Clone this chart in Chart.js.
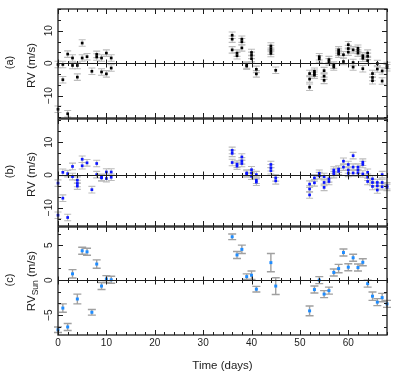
<!DOCTYPE html>
<html><head><meta charset="utf-8">
<script src="https://cdn.jsdelivr.net/npm/chart.js@4"></script>
<style>
html,body{margin:0;padding:0;background:#fff;width:399px;height:379px;overflow:hidden}
#wrap{position:relative;width:399px;height:379px}
canvas{position:absolute;left:0;top:0}
</style></head><body>
<div id="wrap">
<canvas id="ca" width="399" height="379"></canvas>
<canvas id="cb" width="399" height="379"></canvas>
<canvas id="cc" width="399" height="379"></canvas>
</div>
<script>
// ---------- data ----------
const days = [0,1,2,3,4,5,6,7,8,9,10,11,36,37,38,39,40,41,44,45,52,53,54,55,56,57,58,59,60,61,62,63,64,65,66,67,68];
const xTickLabels = [0,10,20,30,40,50,60];
const abTickLabels = [-10,0,10];
const cTickLabels = [-5,0,5];
// panel (a): RV per night (m/s)
const aValues = [[-0.4,-14.2],[-0.4,-5.1],[2.8,-15.6],[1.6,-0.7],[-0.7,-4.3],[6.2,1.6],[2.0],[-2.5],[2.7,1.9],[1.6,-2.7],[3.1,-3.3],[1.6,-1.5],
 [8.6,7.4,4.1],[3.1,2.3],[7.4,6.6,4.7],[-0.6,-0.9],[3.3,2.4,1.4],[-1.9,-3.3],[5.3,4.5,3.7,3.0],[-2.2],
 [-3.2,-4.9,-7.4],[-2.5,-3.1,-3.7],[2.0,1.3],[-2.3,-4.0,-5.3],[1.1,0.4],[-0.6,-1.2],[4.1,3.4,2.8],[2.6,0.5],[5.7,4.5,3.4],[4.1,0.2,-1.2],[4.6,3.9,3.1],[2.3,1.5,-1.7],[3.1,2.1,0.8],[-3.2,-4.4,-5.4],[-0.1,-1.8],[-2.4,-5.5],[-0.7,-1.4]];
// panel (b)
const bValues = [[-2.5,-12.3],[0.8,-7.1],[0.4,-13.0],[2.6,-0.5],[-1.6,-2.6,-3.4],[4.8,2.8],[3.7],[-4.5],[3.5,0.1],[-0.7,-0.9],[0.9,-1.1],[0.9,-0.7],
 [7.5,6.6,3.8],[3.3,2.7],[5.5,4.3,3.5],[0.6,0.3],[1.6,0.6,-0.4],[0.1,-1.6,-2.2],[3.2,2.2,1.3],[-0.9,-1.8],
 [-2.8,-4.3,-6.1],[-0.9,-2.4],[0.5,-0.2],[-0.5,-2.3,-3.8],[-1.2,-2.0],[1.5,0.8,0.1],[1.8,1.1],[4.2,2.4],[3.2,1.5,0.5],[5.9,2.4,0.6],[2.4,1.5,0.6],[3.9,3.2,0.3],[0.8,-0.7,-2.0],[-1.2,-2.3,-3.5],[-2.3,-3.3,-4.6],[0.1,-2.3,-3.6],[-3.3,-3.8]];
const abError = 1.0;
// panel (c): RV_Sun
const cValues = [-7.1,-4.0,-6.7,0.9,-2.7,4.2,4.05,-4.6,2.3,-0.85,0.15,0.05, 6.2,3.6,4.4,0.5,0.7,-1.3,2.5,-0.85, -4.4,-1.35,0,-2.0,-1.5,1.1,1.65,3.95,1.85,3.2,1.8,2.55,-0.5,-2.3,-3.15,-2.5,-3.4];
const cErrors = [0.4,0.6,0.5,0.6,0.7,0.5,0.5,0.4,0.6,0.5,0.5,0.5, 0.4,0.5,0.6,0.4,0.6,0.4,1.3,1.2, 0.7,0.5,0.5,0.5,0.5,0.5,0.6,0.5,0.5,0.5,0.5,0.5,0.5,0.6,0.5,0.6,0.5];

// ---------- helpers ----------
const FONT = '"Liberation Sans", Arial, Helvetica, sans-serif';
const W = 399, H = 379, LEFT = 58, RIGHT = 387;

function groupPoints(vals, err) {
  const pts = [];
  days.forEach((d, i) => vals[i].forEach(v => pts.push({x: d, y: v, e: err})));
  return pts;
}
function rotText(ctx, txt, x, y, font) {
  ctx.save(); ctx.translate(x, y); ctx.rotate(-Math.PI/2);
  ctx.font = font; ctx.textAlign = 'center'; ctx.textBaseline = 'middle';
  ctx.fillText(txt, 0, 0); ctx.restore();
}

const errPlugin = {
  id: 'errbars',
  beforeDatasetsDraw(chart, args, o) {
    const {ctx, scales: {x, y}} = chart;
    ctx.save();
    ctx.strokeStyle = o.color; ctx.lineWidth = o.width;
    chart.data.datasets[0].data.forEach(p => {
      const px = x.getPixelForValue(p.x);
      const y1 = y.getPixelForValue(p.y - p.e), y2 = y.getPixelForValue(p.y + p.e);
      ctx.beginPath();
      ctx.moveTo(px, y1); ctx.lineTo(px, y2);
      ctx.moveTo(px - o.cap, y1); ctx.lineTo(px + o.cap, y1);
      ctx.moveTo(px - o.cap, y2); ctx.lineTo(px + o.cap, y2);
      ctx.stroke();
    });
    ctx.restore();
  }
};

const framePlugin = {
  id: 'frame',
  afterDatasetsDraw(chart, args, o) {
    const {ctx, chartArea: ca, scales: {x, y}} = chart;
    ctx.save();
    ctx.strokeStyle = '#1c1c1c';
    ctx.fillStyle = '#1c1c1c';
    ctx.lineWidth = 1;
    const y0 = Math.round(y.getPixelForValue(0)) + 0.5;
    ctx.beginPath(); ctx.moveTo(ca.left, y0); ctx.lineTo(ca.right, y0); ctx.stroke();
    // x ticks (top, bottom, zero line)
    for (let k = 0; k * 2 <= x.max + 1e-9; k++) {
      const v = k * 2;
      const px = Math.round(x.getPixelForValue(v)) + 0.5;
      const major = v % 10 === 0;
      const L = major ? 5 : 3;
      const Z = major ? 4 : 2.5;
      ctx.beginPath();
      ctx.moveTo(px, ca.top); ctx.lineTo(px, ca.top + L);
      ctx.moveTo(px, ca.bottom); ctx.lineTo(px, ca.bottom - L);
      ctx.moveTo(px, y0 - Z); ctx.lineTo(px, y0 + Z);
      ctx.stroke();
    }
    // y ticks (left, right)
    const step = o.yMajor / 3;
    for (let k = Math.ceil(y.min / step); k * step <= y.max + 1e-9; k++) {
      const py = Math.round(y.getPixelForValue(k * step)) + 0.5;
      const L = (k % 3 === 0) ? 5 : 3;
      ctx.beginPath();
      ctx.moveTo(ca.left, py); ctx.lineTo(ca.left + L, py);
      ctx.moveTo(ca.right, py); ctx.lineTo(ca.right - L, py);
      ctx.stroke();
    }
    ctx.lineWidth = 1.3;
    ctx.strokeRect(ca.left, ca.top, ca.right - ca.left, ca.bottom - ca.top);
    // y tick labels
    o.yLabels.forEach(v => {
      rotText(ctx, (v < 0 ? '\u2212' + Math.abs(v) : String(v)), 49, y.getPixelForValue(v), '10px ' + FONT);
    });
    // panel letter and axis title
    const yc = (ca.top + ca.bottom) / 2;
    rotText(ctx, o.letter, 10, yc - 1, '11px ' + FONT);
    if (o.sun) {
      ctx.save(); ctx.translate(32, yc); ctx.rotate(-Math.PI/2);
      ctx.textBaseline = 'middle'; ctx.textAlign = 'left';
      const f1 = '11.5px ' + FONT, f2 = '8.5px ' + FONT;
      ctx.font = f1; const w1 = ctx.measureText('RV').width; const w3 = ctx.measureText(' (m/s)').width;
      ctx.font = f2; const w2 = ctx.measureText('Sun').width;
      let sx = -(w1 + w2 + w3) / 2;
      ctx.font = f1; ctx.fillText('RV', sx, 0); sx += w1;
      ctx.font = f2; ctx.fillText('Sun', sx, 4); sx += w2;
      ctx.font = f1; ctx.fillText(' (m/s)', sx, 0);
      ctx.restore();
    } else {
      rotText(ctx, 'RV (m/s)', 32, yc + 2, '11.5px ' + FONT);
    }
    if (o.xLabels) {
      ctx.font = '10px ' + FONT; ctx.textAlign = 'center'; ctx.textBaseline = 'middle';
      o.xLabels.forEach(v => ctx.fillText(String(v), x.getPixelForValue(v), ca.bottom + 8));
      ctx.font = '11.5px ' + FONT;
      ctx.fillText('Time (days)', (ca.left + ca.right) / 2, 366);
    }
    ctx.restore();
  }
};

function makePanel(id, p) {
  return new Chart(document.getElementById(id), {
    type: 'scatter',
    data: {datasets: [{data: p.points, pointStyle: 'rect', pointRadius: p.radius, pointBorderWidth: 0,
      backgroundColor: p.color, borderColor: p.color, clip: false}]},
    options: {
      responsive: false, animation: false, events: [], devicePixelRatio: 1,
      layout: {padding: {left: LEFT, right: W - RIGHT, top: p.top, bottom: H - p.bottom}},
      scales: {
        x: {type: 'linear', min: 0, max: 68, display: false},
        y: {type: 'linear', min: p.min, max: p.max, display: false}
      },
      plugins: {
        legend: {display: false}, tooltip: {enabled: false},
        errbars: p.err,
        frame: {yMajor: p.yMajor, yLabels: p.yLabels, letter: p.letter, sun: p.sun, xLabels: p.xLabels}
      }
    },
    plugins: [errPlugin, framePlugin]
  });
}

makePanel('ca', {points: groupPoints(aValues, abError), radius: 1.9, color: '#000000', top: 9, bottom: 118,
  min: -16.9, max: 16.7, yMajor: 10, yLabels: abTickLabels, letter: '(a)',
  err: {color: '#bcbcbc', width: 1.1, cap: 3.5}});
makePanel('cb', {points: groupPoints(bValues, abError), radius: 1.9, color: '#0a14ff', top: 119, bottom: 226,
  min: -15.6, max: 17.1, yMajor: 10, yLabels: abTickLabels, letter: '(b)',
  err: {color: '#bcbcbc', width: 1.1, cap: 3.5}});
makePanel('cc', {points: days.map((d, i) => ({x: d, y: cValues[i], e: cErrors[i]})), radius: 2.1, color: '#1e8cff', top: 227, bottom: 335,
  min: -7.85, max: 7.6, yMajor: 5, yLabels: cTickLabels, letter: '(c)', sun: true, xLabels: xTickLabels,
  err: {color: '#a0a0a0', width: 1.4, cap: 4}});
</script>
</body></html>
